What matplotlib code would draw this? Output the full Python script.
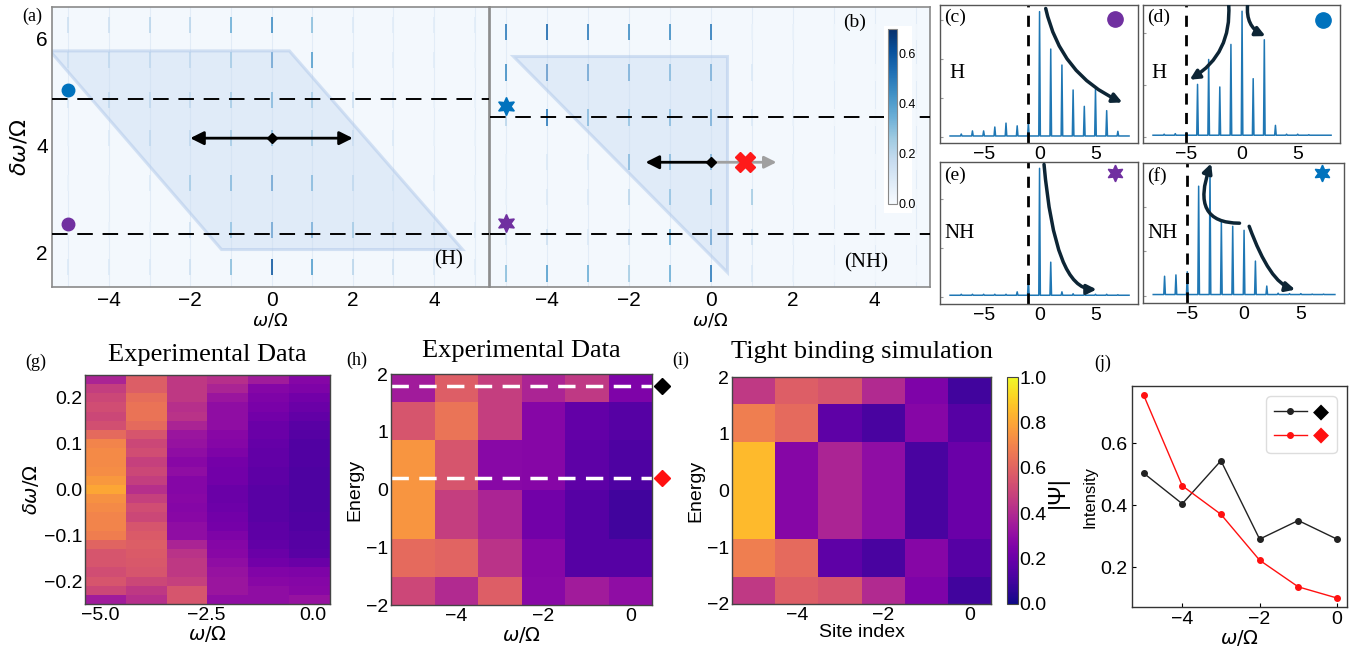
import numpy as np
import matplotlib
matplotlib.use("Agg")
import matplotlib.pyplot as plt
from matplotlib.patches import Polygon, Rectangle, FancyArrowPatch

plt.rcParams['font.family'] = ['Liberation Sans', 'DejaVu Sans']
plt.rcParams['mathtext.fontset'] = 'dejavusans'
SERIF = 'Liberation Serif'

W, H = 1351, 647

# ---------------- data ----------------
# (a)/(b) sideband streak maps
streak_x = [-5, -4, -3, -2, -1, 0, 1, 2, 3, 4, 5]
a_rows = [6.24, 5.59, 4.84, 4.13, 3.29, 2.41, 1.72]
a_int = [
    [0.15, 0.15, 0.20, 0.20, 0.35, 0.45, 0.30, 0.10, 0.08, 0.08, 0.08],
    [0.15, 0.20, 0.20, 0.20, 0.30, 0.50, 0.40, 0.10, 0.08, 0.08, 0.05],
    [0.10, 0.20, 0.20, 0.20, 0.30, 0.40, 0.30, 0.15, 0.08, 0.05, 0.05],
    [0.05, 0.10, 0.20, 0.20, 0.30, 0.40, 0.30, 0.15, 0.10, 0.05, 0.05],
    [0.05, 0.05, 0.10, 0.30, 0.40, 0.50, 0.40, 0.20, 0.10, 0.08, 0.05],
    [0.05, 0.05, 0.05, 0.15, 0.35, 0.50, 0.45, 0.30, 0.15, 0.10, 0.08],
    [0.10, 0.10, 0.10, 0.15, 0.30, 0.60, 0.40, 0.20, 0.15, 0.10, 0.08],
]
b_rows = [6.11, 5.36, 4.52, 3.68, 3.03, 2.28, 1.60]
b_int = [
    [0.50, 0.55, 0.50, 0.45, 0.45, 0.50, 0.05, 0.05, 0.03, 0.02, 0.02],
    [0.45, 0.55, 0.50, 0.45, 0.40, 0.45, 0.10, 0.05, 0.03, 0.02, 0.02],
    [0.20, 0.50, 0.40, 0.35, 0.40, 0.45, 0.10, 0.05, 0.02, 0.02, 0.02],
    [0.05, 0.10, 0.10, 0.40, 0.40, 0.45, 0.10, 0.05, 0.03, 0.02, 0.02],
    [0.05, 0.10, 0.10, 0.20, 0.35, 0.40, 0.25, 0.05, 0.02, 0.02, 0.02],
    [0.10, 0.15, 0.10, 0.15, 0.35, 0.50, 0.15, 0.05, 0.02, 0.02, 0.02],
    [0.30, 0.40, 0.35, 0.25, 0.35, 0.50, 0.10, 0.05, 0.02, 0.02, 0.02],
]
a_dashes = [4.86, 2.34]
b_dashes = [4.52, 2.34]
a_shape = [(-5.45, 5.76), (0.44, 5.76), (4.7, 2.05), (-1.23, 2.05)]
b_shape = [(-4.85, 5.66), (0.38, 5.66), (0.38, 1.63)]

# (c)-(f) spectra, peak heights at sidebands -7..7
spec_x = [-7, -6, -5, -4, -3, -2, -1, 0, 1, 2, 3, 4, 5, 6, 7]
c_h = [0.08, 0.16, 0.16, 0.26, 0.36, 0.29, 0.38, 3.22, 2.26, 1.85, 1.21, 0.79, 1.23, 0.68, 0.15]
d_h = [0.05, 0.06, 0.08, 1.01, 1.49, 0.96, 1.78, 2.42, 1.12, 1.87, 0.22, 0.05, 0.05, 0.04, 0.03]
e_h = [0.05, 0.05, 0.05, 0.05, 0.05, 0.10, 0.39, 2.64, 0.71, 0.10, 0.06, 0.05, 0.05, 0.05, 0.04]
f_h = [0.44, 0.47, 0.54, 2.46, 2.86, 1.66, 1.56, 1.47, 0.78, 0.22, 0.06, 0.05, 0.05, 0.04, 0.04]

# (g) experimental data, columns omega=-5..0, rows from top (0.25) to bottom (-0.25)
g_cols = [
    [0.38, 0.47, 0.50, 0.52, 0.50, 0.53, 0.62, 0.70, 0.72, 0.72, 0.73, 0.76, 0.80,
     0.74, 0.72, 0.70, 0.70, 0.68, 0.60, 0.55, 0.55, 0.52, 0.55, 0.50, 0.35],
    [0.58, 0.58, 0.63, 0.65, 0.65, 0.62, 0.55, 0.50, 0.52, 0.48, 0.50, 0.47, 0.42,
     0.48, 0.52, 0.50, 0.55, 0.57, 0.58, 0.57, 0.56, 0.55, 0.50, 0.45, 0.42],
    [0.45, 0.45, 0.45, 0.42, 0.43, 0.38, 0.33, 0.32, 0.30, 0.28, 0.30, 0.27, 0.27,
     0.28, 0.27, 0.28, 0.30, 0.30, 0.38, 0.43, 0.45, 0.45, 0.48, 0.55, 0.55],
    [0.42, 0.38, 0.33, 0.30, 0.30, 0.30, 0.28, 0.27, 0.25, 0.23, 0.22, 0.22, 0.20,
     0.20, 0.21, 0.22, 0.23, 0.25, 0.27, 0.28, 0.30, 0.32, 0.33, 0.33, 0.30],
    [0.35, 0.27, 0.25, 0.24, 0.22, 0.20, 0.20, 0.19, 0.18, 0.18, 0.17, 0.17, 0.16,
     0.16, 0.16, 0.16, 0.17, 0.17, 0.18, 0.20, 0.22, 0.26, 0.28, 0.30, 0.30],
    [0.27, 0.25, 0.22, 0.20, 0.18, 0.16, 0.15, 0.14, 0.14, 0.14, 0.13, 0.13, 0.13,
     0.13, 0.13, 0.14, 0.14, 0.15, 0.15, 0.16, 0.20, 0.25, 0.27, 0.28, 0.32],
]

# (h)/(i) energy-resolved maps, rows bottom->top
site_edges = [-5.5, -4.5, -3.5, -2.5, -1.5, -0.5, 0.5]
energy_edges = [-2.0, -1.52, -0.85, 0.0, 0.85, 1.52, 2.0]
h_vals = [
    [0.50, 0.40, 0.58, 0.28, 0.35, 0.30],
    [0.62, 0.60, 0.43, 0.27, 0.15, 0.15],
    [0.75, 0.47, 0.38, 0.22, 0.15, 0.10],
    [0.75, 0.55, 0.28, 0.27, 0.17, 0.13],
    [0.55, 0.65, 0.47, 0.27, 0.18, 0.15],
    [0.35, 0.58, 0.47, 0.38, 0.45, 0.25],
]
i_vals = [
    [0.45, 0.58, 0.55, 0.40, 0.25, 0.10],
    [0.68, 0.62, 0.17, 0.12, 0.27, 0.15],
    [0.85, 0.27, 0.38, 0.30, 0.12, 0.20],
    [0.85, 0.27, 0.38, 0.30, 0.12, 0.20],
    [0.68, 0.62, 0.17, 0.12, 0.27, 0.15],
    [0.45, 0.58, 0.55, 0.40, 0.25, 0.10],
]
h_marks = [1.8, 0.2]

# (j) intensities along the two marked energies
j_x = [-5, -4, -3, -2, -1, 0]
j_black = [0.503, 0.404, 0.543, 0.290, 0.350, 0.290]
j_red = [0.755, 0.462, 0.370, 0.222, 0.136, 0.100]

# ---------------- helpers ----------------
def px(l, t, r, b):
    return [l / W, 1 - b / H, (r - l) / W, (b - t) / H]

def ftext(x, y, s, **kw):
    fig.text(x / W, 1 - y / H, s, **kw)

fig = plt.figure(figsize=(W / 100, H / 100), dpi=100)

BLUE = '#0072bd'
PURPLE = '#7030a0'
STAR = (6, 1, 0)
NAVY = '#0d2535'

# ---------------- (a) and (b) ----------------
def streak_panel(box, rows, ints, dashes, shape):
    ax = fig.add_axes(px(*box))
    ax.set_facecolor('#f3f8fd')
    for xv in streak_x:
        ax.axvline(xv, color='#e2ecf7', lw=0.8, zorder=0)
    X, Y = np.meshgrid(streak_x, rows)
    ax.scatter(X.ravel(), Y.ravel(), c=np.array(ints).ravel(), cmap='Blues',
               vmin=0, vmax=0.7, marker='|', s=140, linewidths=1.2, zorder=1)
    ax.add_patch(Polygon(shape, closed=True, facecolor='#c9dcf2', alpha=0.45,
                         edgecolor='#a9c3e8', lw=2.2, zorder=2))
    for d in dashes:
        ax.axhline(d, color='k', lw=1.4, dashes=(8, 5), zorder=3)
    ax.set_xlim(-5.4, 5.35)
    ax.set_ylim(1.35, 6.58)
    ax.set_xticks([-4, -2, 0, 2, 4])
    ax.set_yticks([2, 4, 6])
    ax.tick_params(length=0, labelsize=15, pad=3)
    for s in ax.spines.values():
        s.set_color('#8a8a8a')
        s.set_linewidth(1.2)
    return ax

ax_a = streak_panel((52, 7, 489, 287), a_rows, a_int, a_dashes, a_shape)
ax_a.annotate('', xy=(-2.0, 4.13), xytext=(2.0, 4.13),
              arrowprops=dict(arrowstyle='<|-|>', color='k', lw=2, mutation_scale=20,
                              shrinkA=0, shrinkB=0), zorder=5)
ax_a.plot([0], [4.13], marker='D', color='k', ms=5, zorder=6)
ax_a.plot([-5], [5.03], 'o', color=BLUE, ms=9, zorder=6)
ax_a.plot([-5], [2.52], 'o', color=PURPLE, ms=9, zorder=6)
ax_a.text(4.35, 1.85, '(H)', family=SERIF, fontsize=15, ha='center', va='center')
ax_a.set_ylabel(r'$\delta\omega/\Omega$', fontsize=16, labelpad=4)
ax_a.set_xlabel(r'$\omega/\Omega$', fontsize=13, labelpad=1)

ax_b = streak_panel((490, 7, 930, 287), b_rows, b_int, b_dashes, b_shape)
ax_b.set_yticklabels([])
ax_b.annotate('', xy=(1.6, 3.68), xytext=(0.0, 3.68),
              arrowprops=dict(arrowstyle='-|>', color='#a0a0a0', lw=2, mutation_scale=18,
                              shrinkA=0, shrinkB=0), zorder=4)
ax_b.annotate('', xy=(-1.6, 3.68), xytext=(0.0, 3.68),
              arrowprops=dict(arrowstyle='-|>', color='k', lw=2, mutation_scale=20,
                              shrinkA=0, shrinkB=0), zorder=5)
ax_b.plot([0], [3.68], marker='D', color='k', ms=5, zorder=6)
ax_b.plot([0.84], [3.68], marker='X', color='#ff1a1a', ms=15, zorder=7)
ax_b.plot([-5], [4.73], marker=STAR, color=BLUE, ms=13, zorder=6)
ax_b.plot([-5], [2.54], marker=STAR, color=PURPLE, ms=13, zorder=6)
ax_b.text(3.5, 6.3, '(b)', family=SERIF, fontsize=14, ha='center', va='center')
ax_b.text(3.78, 1.81, '(NH)', family=SERIF, fontsize=15, ha='center', va='center')
ax_b.set_xlabel(r'$\omega/\Omega$', fontsize=13, labelpad=1)
ftext(32, 16, '(a)', family=SERIF, fontsize=13, ha='center', va='center')

# colorbar inside (b)
fig.patches.append(Rectangle((884 / W, 1 - 213 / H), 28 / W, 187 / H,
                             transform=fig.transFigure, facecolor='white',
                             edgecolor='none', zorder=2))
cax_b = fig.add_axes(px(888, 29, 897, 204))
cax_b.set_zorder(5)
sm = plt.cm.ScalarMappable(cmap='Blues', norm=plt.Normalize(0, 0.7))
cb_b = fig.colorbar(sm, cax=cax_b, ticks=[0, 0.2, 0.4, 0.6])
cb_b.ax.tick_params(length=0, labelsize=9, pad=1)
cb_b.ax.set_yticklabels(['0.0', '0.2', '0.4', '0.6'])
cb_b.outline.set_edgecolor('#888888')

# ---------------- (c)-(f) ----------------
def spectrum_panel(box, heights, ylim, nticks, label, kind, vline, marker, mcolor, mpos):
    ax = fig.add_axes(px(*box))
    xs, ys = [-8.0], [0.03]
    for k, h in zip(spec_x, heights):
        xs += [k - 0.07, k, k + 0.07]
        ys += [0.03, h, 0.03]
    xs.append(8.0)
    ys.append(0.03)
    ax.plot(xs, ys, color='#1f77b4', lw=1.1)
    ax.axvline(vline, color='k', lw=2, dashes=(4, 3))
    ax.set_xlim(-8.9, 8.8)
    ax.set_ylim(*ylim)
    ax.set_xticks([-5, 0, 5])
    ax.set_yticks(list(range(nticks)))
    ax.set_yticklabels([])
    ax.tick_params(axis='x', length=0, labelsize=14, pad=2)
    ax.tick_params(axis='y', direction='in', length=2, color='#999999')
    for s in ax.spines.values():
        s.set_color('#555555')
        s.set_linewidth(1.0)
    ax.text(0.02, 0.97, label, transform=ax.transAxes, family=SERIF, fontsize=14,
            ha='left', va='top')
    ax.text(0.045 if kind == 'H' else 0.02, 0.5, kind, transform=ax.transAxes,
            family=SERIF, fontsize=15, ha='left', va='center')
    ax.plot([mpos[0]], [mpos[1]], marker=marker, color=mcolor, ms=11 if marker == 'o' else 12,
            ls='none')
    return ax

def curve(ax, start, end, style):
    ax.add_patch(FancyArrowPatch(start, end, connectionstyle=style, arrowstyle='-|>',
                                 mutation_scale=14, color=NAVY, lw=2.5,
                                 shrinkA=0, shrinkB=0, zorder=6))

ax_c = spectrum_panel((940, 5, 1138, 143), c_h, (-0.15, 3.39), 4, '(c)', 'H', -1,
                      'o', PURPLE, (6.7, 3.03))
curve(ax_c, (0.55, 3.3), (7.4, 0.89), 'arc3,rad=0.25')

ax_d = spectrum_panel((1143, 5, 1340, 143), d_h, (-0.12, 2.54), 3, '(d)', 'H', -5,
                      'o', BLUE, (7.3, 2.26))
curve(ax_d, (-1.2, 2.55), (-4.7, 1.1), 'arc3,rad=-0.3')
curve(ax_d, (0.5, 2.55), (2.1, 1.94), 'arc3,rad=0.35')

ax_e = spectrum_panel((940, 162, 1138, 304), e_h, (-0.15, 2.77), 3, '(e)', 'NH', -1,
                      STAR, PURPLE, (6.7, 2.55))
curve(ax_e, (0.4, 2.72), (5.1, 0.15), 'angle3,angleA=95,angleB=0')

ax_f = spectrum_panel((1143, 163, 1344, 303), f_h, (-0.16, 2.98), 3, '(f)', 'NH', -5,
                      STAR, BLUE, (6.9, 2.76))
curve(ax_f, (-0.4, 1.63), (-2.9, 2.97), 'angle3,angleA=0,angleB=70')
curve(ax_f, (0.45, 1.56), (4.5, 0.14), 'angle3,angleA=110,angleB=-15')

# ---------------- (g) ----------------
ax_g = fig.add_axes(px(85, 375, 330, 604))
ax_g.imshow(np.array(g_cols).T, cmap='plasma', vmin=0, vmax=1, aspect='auto',
            extent=[-5.35, 0.4, -0.25, 0.25], interpolation='nearest')
ax_g.set_xlim(-5.35, 0.4)
ax_g.set_ylim(-0.25, 0.25)
ax_g.set_xticks([-5.0, -2.5, 0.0])
ax_g.set_xticklabels(['\u22125.0', '\u22122.5', '0.0'])
ax_g.set_yticks([-0.2, -0.1, 0.0, 0.1, 0.2])
ax_g.set_yticklabels(['\u22120.2', '\u22120.1', '0.0', '0.1', '0.2'])
ax_g.set_title('Experimental Data', family=SERIF, fontsize=19, pad=10)
ax_g.set_xlabel(r'$\omega/\Omega$', fontsize=14, labelpad=0)
ax_g.set_ylabel(r'$\delta\omega/\Omega$', fontsize=14, labelpad=2)
ftext(36, 362, '(g)', family=SERIF, fontsize=13, ha='center', va='center')

# ---------------- (h) ----------------
ax_h = fig.add_axes(px(391, 374, 652, 605))
ax_h.pcolormesh(site_edges, energy_edges, h_vals, cmap='plasma', vmin=0, vmax=1)
for e in h_marks:
    ax_h.axhline(e, color='white', lw=2.5, dashes=(5, 3))
ax_h.plot([0.73], [h_marks[0]], marker='D', color='k', ms=8, clip_on=False)
ax_h.plot([0.73], [h_marks[1]], marker='D', color='#ff1010', ms=8, clip_on=False)
ax_h.set_xlim(-5.5, 0.5)
ax_h.set_ylim(-2, 2)
ax_h.set_xticks([-4, -2, 0])
ax_h.set_yticks([-2, -1, 0, 1, 2])
ax_h.set_title('Experimental Data', family=SERIF, fontsize=19, pad=12)
ax_h.set_xlabel(r'$\omega/\Omega$', fontsize=14, labelpad=0)
ax_h.set_ylabel('Energy', fontsize=14, labelpad=2)
ftext(357, 360, '(h)', family=SERIF, fontsize=13, ha='center', va='center')

# ---------------- (i) ----------------
ax_i = fig.add_axes(px(732, 377, 991, 604))
mesh = ax_i.pcolormesh(site_edges, energy_edges, i_vals, cmap='plasma', vmin=0, vmax=1)
ax_i.set_xlim(-5.5, 0.5)
ax_i.set_ylim(-2, 2)
ax_i.set_xticks([-4, -2, 0])
ax_i.set_yticks([-2, -1, 0, 1, 2])
ax_i.set_title('Tight binding simulation', family=SERIF, fontsize=19, pad=14)
ax_i.set_xlabel('Site index', fontsize=14, labelpad=0)
ax_i.set_ylabel('Energy', fontsize=14, labelpad=2)
ftext(681, 360, '(i)', family=SERIF, fontsize=13, ha='center', va='center')

cax_i = fig.add_axes(px(1007, 377, 1018, 604))
cb_i = fig.colorbar(mesh, cax=cax_i, ticks=[0, 0.2, 0.4, 0.6, 0.8, 1.0])
cb_i.ax.set_yticklabels(['0.0', '0.2', '0.4', '0.6', '0.8', '1.0'])
cb_i.ax.tick_params(length=0, labelsize=14, pad=1)
cb_i.outline.set_edgecolor('#444444')
ftext(1058, 492, '|\u03a8|', fontsize=17, rotation=90, ha='center', va='center')

for ax in (ax_g, ax_h, ax_i):
    ax.tick_params(length=0, labelsize=14, pad=2)
    for s in ax.spines.values():
        s.set_color('#444444')
        s.set_linewidth(1.0)

# ---------------- (j) ----------------
ax_j = fig.add_axes(px(1132, 386, 1347, 607))
ax_j.plot(j_x, j_black, '-o', color='#222222', lw=1.0, ms=4, label='\u25c6')
ax_j.plot(j_x, j_red, '-o', color='#ff1010', lw=1.0, ms=4, label='\u25c6')
ax_j.set_xlim(-5.3, 0.26)
ax_j.set_ylim(0.071, 0.784)
ax_j.set_xticks([-4, -2, 0])
ax_j.set_yticks([0.2, 0.4, 0.6])
ax_j.tick_params(direction='in', length=3, labelsize=14, pad=3)
for s in ax_j.spines.values():
    s.set_color('#333333')
    s.set_linewidth(1.0)
ax_j.set_xlabel(r'$\omega/\Omega$', fontsize=14, labelpad=0)
ax_j.set_ylabel('Intensity', fontsize=12, labelpad=2)
leg = ax_j.legend(loc='upper right', fontsize=15, handlelength=1.6, handletextpad=0.3,
                  borderpad=0.35, labelspacing=0.2, framealpha=1, edgecolor='#dddddd')
leg.get_texts()[0].set_color('black')
leg.get_texts()[1].set_color('#ff1010')
ftext(1103, 363, '(j)', family=SERIF, fontsize=13, ha='center', va='center')

fig.savefig('out.png', dpi=100)
